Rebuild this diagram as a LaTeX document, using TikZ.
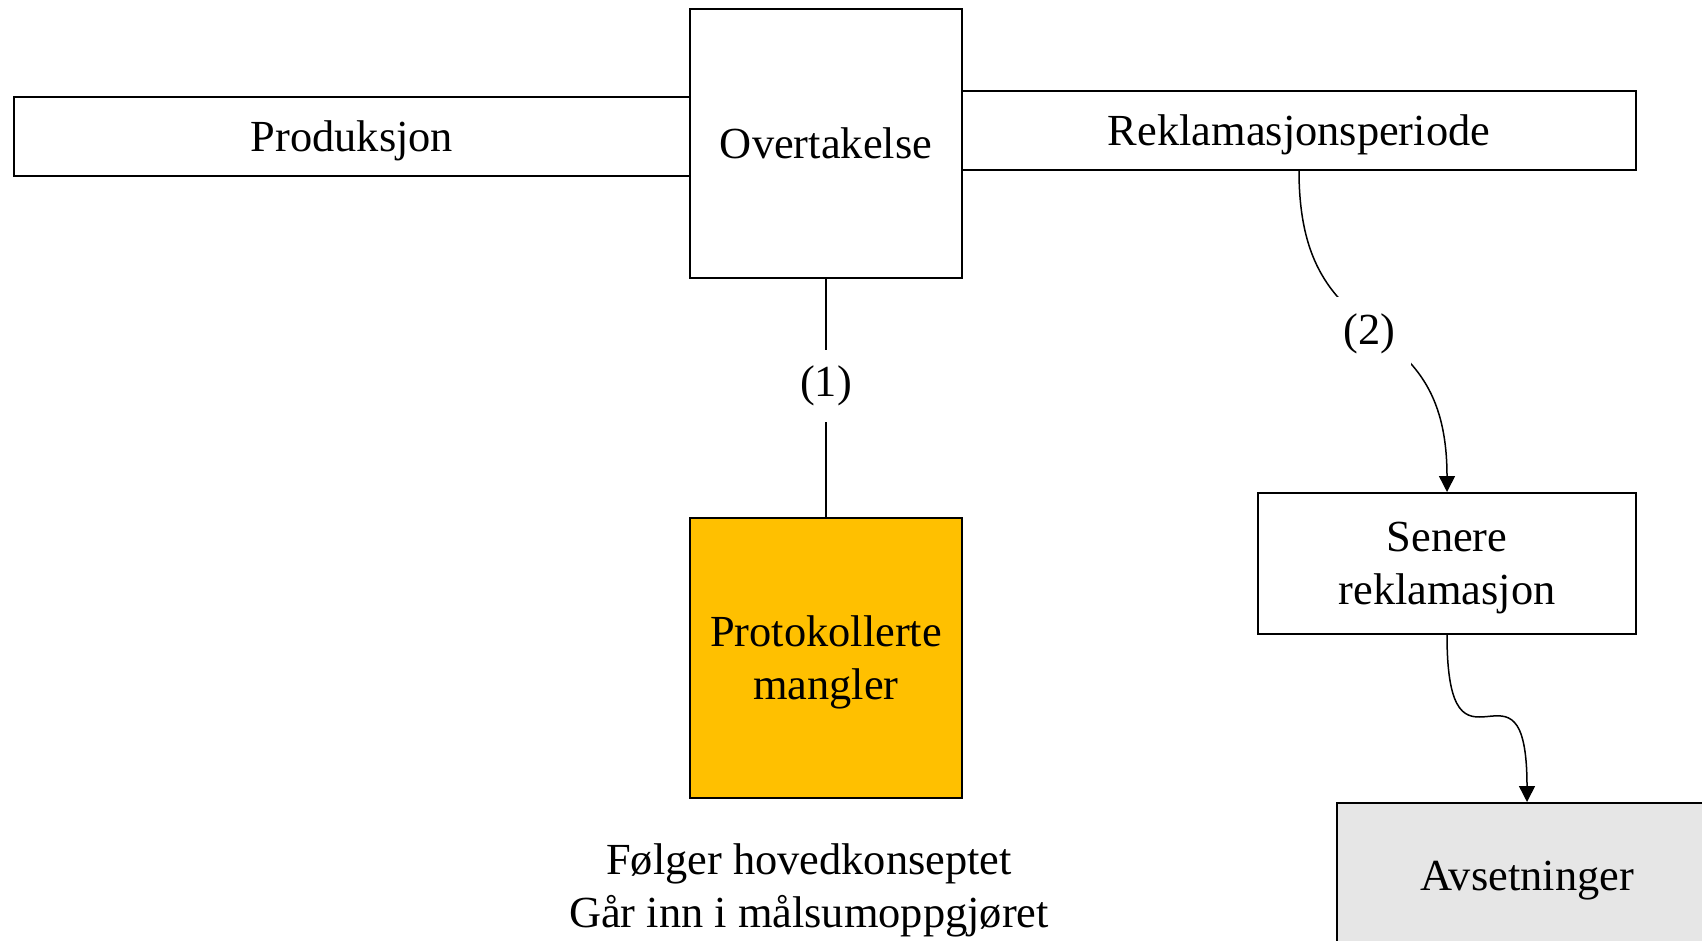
\documentclass[tikz,border=0pt]{standalone}
\usepackage{fontspec}
\setmainfont{Liberation Serif}
\usetikzlibrary{arrows.meta,positioning}

\definecolor{protfill}{HTML}{FFC000}
\definecolor{avsfill}{HTML}{E6E6E6}

\tikzset{
    txt/.style={align=center,inner sep=0pt,font=\fontsize{22.2}{26.5}\selectfont},
    box/.style={txt,text depth=0pt,draw,line width=1pt,rectangle},
    lbl/.style={txt,fill=white,inner sep=8pt},
}

\begin{document}
\begin{tikzpicture}[x=0.5pt,y=-0.5pt,>={Triangle[length=8pt,width=8pt]},line width=0.75pt]
    \useasboundingbox (0,0) rectangle (1702,941);
    \clip (0,0) rectangle (1702,941);
    % tidslinje
    \node[box,minimum width=338pt,minimum height=39.5pt] (prod) at (352,136.5) {Produksjon};
    \node[box,minimum width=337pt,minimum height=39.5pt] (rekl) at (1299,130.5) {Reklamasjonsperiode};
    \node[box,fill=white,minimum width=136pt,minimum height=134.5pt] (over) at (826,143.5) {Overtakelse};
    % mangler
    \node[box,fill=protfill,minimum width=136pt,minimum height=140pt] (prot) at (826,658) {Protokollerte\\mangler};
    \node[txt,text depth=0pt] (note) at (809,886) {Følger hovedkonseptet\\Går inn i målsumoppgjøret};
    \node[box,minimum width=189pt,minimum height=70.5pt] (sen) at (1447,563.5) {Senere\\reklamasjon};
    \node[box,fill=avsfill,minimum width=190pt,minimum height=73pt] (avs) at (1527,876) {Avsetninger};
    \draw (over) -- node[lbl,pos=0.45] {(1)} (prot);
    \draw[->] (rekl.south) to[out=-90,in=90,looseness=1.4] node[lbl,pos=0.51,xshift=-3pt] {(2)} (sen.north);
    \draw[->] (sen.south) to[out=-90,in=90,looseness=2.3] (avs.north);
\end{tikzpicture}
\end{document}
